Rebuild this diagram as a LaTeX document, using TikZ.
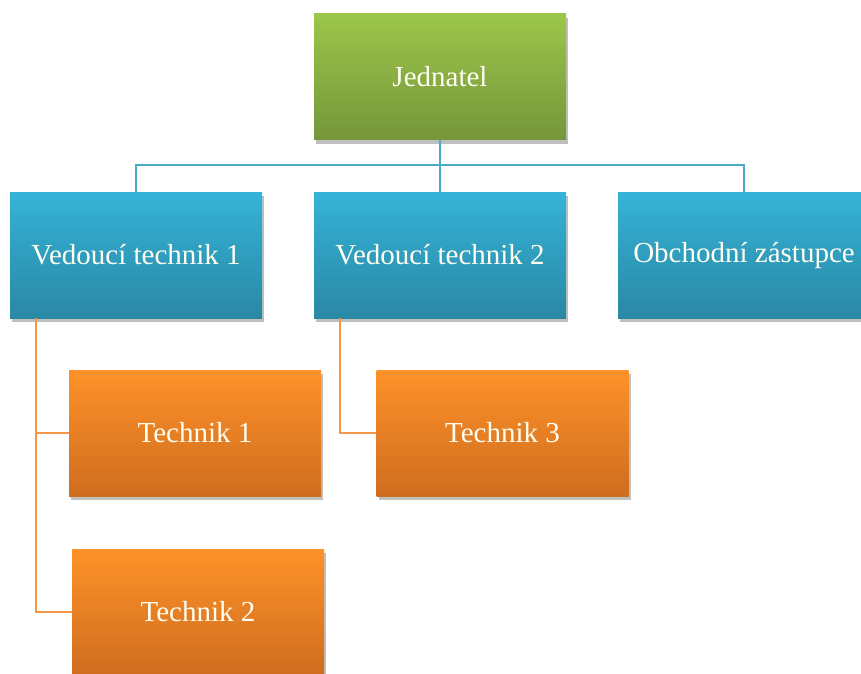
\documentclass[tikz,border=0pt]{standalone}
\usepackage{fontspec}
\setmainfont{Liberation Serif}
\usetikzlibrary{shadows}
\definecolor{grntop}{HTML}{9CC64B}
\definecolor{grnbot}{HTML}{76963A}
\definecolor{blutop}{HTML}{35B3D7}
\definecolor{blubot}{HTML}{2A88A5}
\definecolor{orgtop}{HTML}{FE9229}
\definecolor{orgbot}{HTML}{CF6D1F}
\definecolor{bluline}{HTML}{4BACC6}
\definecolor{orgline}{HTML}{F79646}
\tikzset{
  orgbox/.style={minimum width=252pt,minimum height=126pt,inner sep=0pt,
    text=white!95!yellow,font=\fontsize{29}{34}\selectfont,
    drop shadow={shadow xshift=2pt,shadow yshift=-4pt,opacity=0.25,fill=black}},
  boss/.style={orgbox,top color=grntop,bottom color=grnbot},
  lead/.style={orgbox,top color=blutop,bottom color=blubot},
  tech/.style={orgbox,top color=orgtop,bottom color=orgbot},
  blink/.style={bluline,line width=2pt},
  olink/.style={orgline,line width=2pt}
}
\begin{document}
\begin{tikzpicture}[x=1pt,y=-1pt]
  \useasboundingbox (0,0) rectangle (861,673);
  % top level
  \node[boss] (jednatel) at (440,76.5) {Jednatel};
  % second level
  \node[lead] (vt1) at (136,255) {Vedoucí technik 1};
  \node[lead] (vt2) at (440,255) {Vedoucí technik 2};
  \node[lead] (obchod) at (744,255) {Obchodní zástupce};
  % technicians
  \node[tech] (t1) at (195,433) {Technik 1};
  \node[tech] (t3) at (502.5,433) {Technik 3};
  \node[tech] (t2) at (198,612) {Technik 2};
  % connectors
  \coordinate (rail) at (440,165);
  \draw[blink] (jednatel.south) -- (rail);
  \draw[blink] (rail) -| (vt1.north);
  \draw[blink] (rail) -- (vt2.north);
  \draw[blink] (rail) -| (obchod.north);
  \draw[olink] ([xshift=26pt]vt1.south west) |- (t1.west);
  \draw[olink] ([xshift=26pt]vt1.south west) |- (t2.west);
  \draw[olink] ([xshift=26pt]vt2.south west) |- (t3.west);
\end{tikzpicture}
\end{document}
